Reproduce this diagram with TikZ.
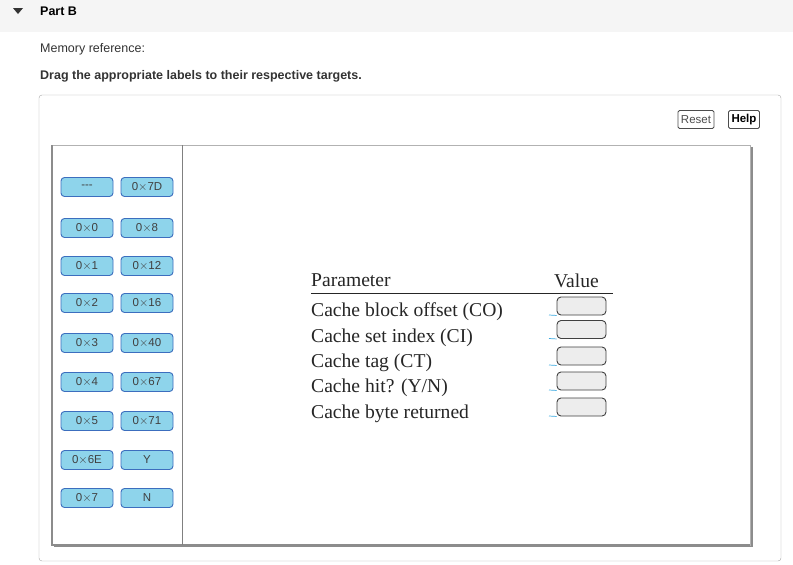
\documentclass[tikz,border=0pt]{standalone}
\usepackage{fontspec}
\setmainfont{Liberation Sans}
\newfontfamily\tabfont{Liberation Serif}
\definecolor{lblfill}{RGB}{142,212,235}
\definecolor{lbldraw}{RGB}{60,110,190}
\definecolor{uline}{RGB}{60,170,225}
\begin{document}
\begin{tikzpicture}[x=1pt,y=-1pt,
  lbl/.style={draw=lbldraw,line width=0.9pt,fill=lblfill,rounded corners=3.5pt,minimum width=52pt,minimum height=19pt,inner sep=0pt,font=\fontsize{11.5}{12}\selectfont,text=black!75},
  val/.style={draw=black!75,line width=0.9pt,fill=black!7,rounded corners=4pt,minimum width=49pt,minimum height=18pt,inner sep=0pt},
  btn/.style={draw=black!70,line width=0.8pt,rounded corners=1.5pt,minimum height=18pt,inner sep=3pt,font=\fontsize{11.5}{12}\selectfont},
  par/.style={anchor=west,font=\tabfont\fontsize{19.6}{21}\selectfont,text=black!85,inner sep=0pt}]
\useasboundingbox (0,0) rectangle (793,565);
\fill[black!4] (0,0) rectangle (793,32);
\fill[black!80] (13,8) -- (23,8) -- (18,14) -- cycle;
\node[anchor=west,inner sep=0pt,font=\bfseries\fontsize{12.5}{14}\selectfont] (pb) at (40,11) {Part B};
\node[anchor=west,inner sep=0pt,font=\fontsize{12.5}{14}\selectfont,text=black!80] (mr) at (40,49) {Memory reference:};
\node[anchor=west,inner sep=0pt,font=\bfseries\fontsize{12.5}{14}\selectfont,text=black!80] (dr) at (40,76) {Drag the appropriate labels to their respective targets.};
\draw[black!35,rounded corners=3pt] (39,95) rectangle (781,561);
\node[btn,text=black!70] (reset) at (696,119.5) {Reset};
\node[btn,font=\bfseries\fontsize{11.5}{12}\selectfont] (help) at (744,119.5) {Help};
\fill[black!45] (54,147) rectangle (753,547);
\draw[black!30,fill=white] (52,145) rectangle (750,545);
\draw[black!45,line width=1.2pt] (52,145) -- (52,545) -- (750,545);
\draw[black!50,line width=1pt] (182,145) -- (182,545);
\foreach \a/\b/\y [count=\i] in {{-{}-{}-}/{0$\times$7D}/187, {0$\times$0}/{0$\times$8}/228, {0$\times$1}/{0$\times$12}/266, {0$\times$2}/{0$\times$16}/303, {0$\times$3}/{0$\times$40}/343, {0$\times$4}/{0$\times$67}/382, {0$\times$5}/{0$\times$71}/421, {0$\times$6E}/{Y}/460, {0$\times$7}/{N}/498}{
  \node[lbl] (l\i) at (87,\y) {\a};
  \node[lbl] (r\i) at (147,\y) {\b};
}
\node[par] (ph) at (311,280.5) {Parameter};
\node[par] (vh) at (554,280.5) {Value};
\draw[black!85,line width=0.8pt] (311,293) -- (613,293);
\foreach \t/\y/\b [count=\i] in {{Cache block offset (CO)}/311.5/306, {Cache set index (CI)}/337.5/329.5, {Cache tag (CT)}/362.5/356, {Cache hit? (Y/N)}/387.5/381, {Cache byte returned}/413.5/407}{
  \node[par] (p\i) at (311,\y) {\t};
  \node[val] (v\i) at (581.5,\b) {};
  \coordinate (u\i) at (549,\b+9);
  \draw[uline,line width=0.7pt] (u\i) -- (v\i.south west);
}
\end{tikzpicture}
\end{document}
